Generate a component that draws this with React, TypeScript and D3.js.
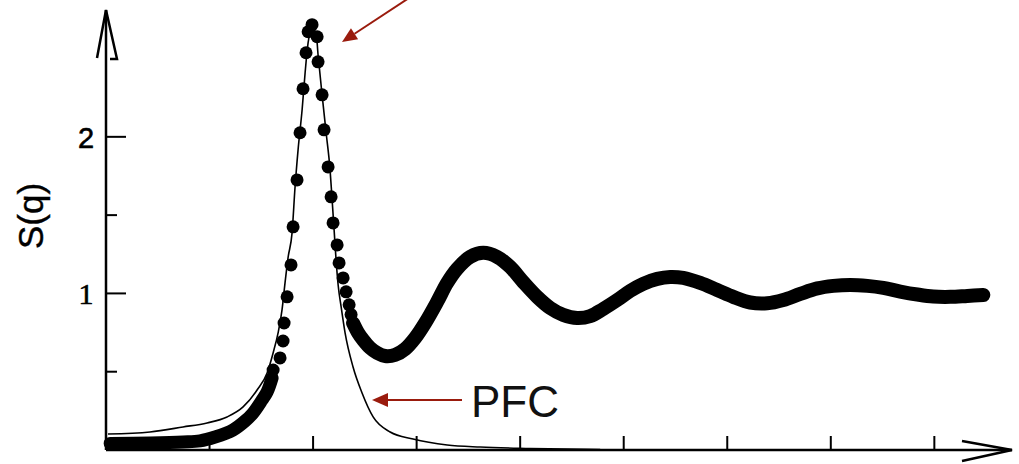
import React from "react";
import * as d3 from "d3";

// S(q) readings for the dense low-q band of dots
const lowBand: [number, number][] = [
  [0.04, 0.042], [0.425, 0.045], [0.744, 0.051], [0.908, 0.058], [1.053, 0.083],
  [1.227, 0.128], [1.343, 0.185], [1.42, 0.236], [1.507, 0.319], [1.556, 0.371],
  [1.604, 0.46],
];

// separate dots around the main peak
const peakDots: [number, number][] = [
  [1.614, 0.511], [1.681, 0.588], [1.71, 0.696], [1.72, 0.811], [1.749, 0.978],
  [1.787, 1.182], [1.807, 1.425], [1.845, 1.725], [1.874, 2.026], [1.903, 2.307],
  [1.932, 2.537], [1.952, 2.671], [1.99, 2.716], [2.039, 2.639], [2.048, 2.479],
  [2.087, 2.268], [2.106, 2.045], [2.145, 1.808], [2.174, 1.617], [2.193, 1.45],
  [2.232, 1.31], [2.251, 1.195], [2.29, 1.099], [2.319, 1.01], [2.348, 0.927],
  [2.367, 0.865],
];

// dense dots after the peak (they merge into a thick band)
const tailBand: [number, number][] = [
  [2.386, 0.811], [2.435, 0.748], [2.483, 0.703], [2.551, 0.652],
  [2.618, 0.62], [2.696, 0.6], [2.792, 0.607], [2.889, 0.645], [2.986, 0.716],
  [3.082, 0.811], [3.198, 0.946], [3.295, 1.067], [3.391, 1.157], [3.517, 1.233],
  [3.643, 1.259], [3.778, 1.233], [3.903, 1.169], [4.029, 1.073], [4.164, 0.978],
  [4.29, 0.907], [4.415, 0.863], [4.551, 0.843], [4.676, 0.855], [4.802, 0.901],
  [4.937, 0.958], [5.063, 1.016], [5.188, 1.061], [5.324, 1.093], [5.449, 1.105],
  [5.575, 1.099], [5.739, 1.067], [5.903, 1.022], [6.058, 0.978], [6.222, 0.942],
  [6.386, 0.937], [6.541, 0.958], [6.705, 0.997], [6.87, 1.032], [7.024, 1.048],
  [7.188, 1.054], [7.353, 1.048], [7.507, 1.035], [7.671, 1.012], [7.836, 0.993],
  [7.99, 0.98], [8.155, 0.978], [8.319, 0.984], [8.473, 0.99],
];

// PFC curve
const pfc: [number, number][] = [
  [0.019, 0.102], [0.425, 0.115], [0.744, 0.147], [0.976, 0.173], [1.169, 0.211],
  [1.324, 0.275], [1.459, 0.383], [1.556, 0.492], [1.614, 0.62], [1.662, 0.748],
  [1.7, 0.895], [1.729, 1.067], [1.758, 1.227], [1.797, 1.387], [1.826, 1.681],
  [1.855, 1.917], [1.894, 2.173], [1.923, 2.409], [1.952, 2.601], [1.99, 2.69],
  [2.029, 2.665], [2.048, 2.524], [2.087, 2.268], [2.126, 2.026], [2.164, 1.789],
  [2.184, 1.597], [2.203, 1.406], [2.222, 1.214], [2.242, 1.054], [2.271, 0.914],
  [2.309, 0.748], [2.386, 0.53], [2.473, 0.364], [2.58, 0.211], [2.744, 0.115],
  [2.966, 0.07], [3.295, 0.032], [3.614, 0.019], [4.097, 0.01], [4.773, 0.003],
];

const xTicks = [1, 2, 3, 4, 5, 6, 7, 8];
const yTicks = [0.5, 1, 1.5, 2];
const yLabels = ["1", "2"];
const yLabel = "S(q)";
const pfcLabel = "PFC";

const W = 1019;
const H = 464;
const red = "#9a1b0d";

export default function App() {
  const x = d3.scaleLinear().domain([0, 8.75]).range([106, 1012]);
  const y = d3.scaleLinear().domain([0, 2.81]).range([450, 10]);

  const pfcLine = d3
    .line<[number, number]>()
    .x((d) => x(d[0]))
    .y((d) => y(d[1]))
    .curve(d3.curveMonotoneX);

  const bandLine = d3
    .line<[number, number]>()
    .x((d) => x(d[0]))
    .y((d) => y(d[1]))
    .curve(d3.curveCatmullRom.alpha(0.5));

  const x0 = x(0);
  const y0 = y(0);
  const xEnd = x.range()[1];
  const yTop = y.range()[1];

  // red arrow pointing at the peak from top right
  const tip1 = [342, 42];
  const from1 = [412, -4];
  const len1 = Math.hypot(from1[0] - tip1[0], from1[1] - tip1[1]);
  const ux = (from1[0] - tip1[0]) / len1;
  const uy = (from1[1] - tip1[1]) / len1;
  const bx = tip1[0] + ux * 15;
  const by = tip1[1] + uy * 15;

  return (
    <svg
      width={W}
      height={H}
      style={{ position: "absolute", left: 0, top: 0, background: "#fff" }}
    >
      {/* axes */}
      <g stroke="#000" fill="none" strokeWidth={2.5}>
        <line x1={x0} y1={y0} x2={xEnd} y2={y0} />
        <line x1={x0} y1={y0} x2={x0} y2={yTop} />
        <path d={`M${xEnd - 50},${y0 - 9} L${xEnd},${y0} L${xEnd - 50},${y0 + 11}`} />
        <path d={`M${x0 - 9},${yTop + 48} L${x0},${yTop} L${x0 + 11},${yTop + 49} L${x0 + 4},${yTop + 49}`} />
      </g>
      <g stroke="#000" strokeWidth={2}>
        {xTicks.map((t) => (
          <line key={t} x1={x(t)} x2={x(t)} y1={y0} y2={y0 - 14} />
        ))}
        {yTicks.map((t) => (
          <line key={t} x1={x0} x2={x0 + (t % 1 === 0 ? 20 : 11)} y1={y(t)} y2={y(t)} />
        ))}
      </g>
      {yLabels.map((l) => (
        <text
          key={l}
          x={86}
          y={y(+l) + 11}
          textAnchor="middle"
          fontSize={l === "1" ? 30 : 29}
          fontFamily={l === "1" ? "Liberation Serif" : "Liberation Sans"}
          fill="#000"
          stroke="#000"
          strokeWidth={0.6}
        >
          {l}
        </text>
      ))}
      <text
        transform="translate(43,216) rotate(-90)"
        textAnchor="middle"
        fontSize={35}
        fontFamily="Liberation Sans"
        fill="#000"
        stroke="#000"
        strokeWidth={0.4}
      >
        {yLabel}
      </text>

      {/* PFC curve */}
      <path d={pfcLine(pfc) || ""} fill="none" stroke="#000" strokeWidth={1.6} />

      {/* dense data bands */}
      <path d={bandLine(lowBand) || ""} fill="none" stroke="#000" strokeWidth={13} strokeLinecap="round" strokeLinejoin="round" />
      <path d={bandLine(tailBand) || ""} fill="none" stroke="#000" strokeWidth={14} strokeLinecap="round" strokeLinejoin="round" />
      {peakDots.map((d, i) => (
        <circle key={i} cx={x(d[0])} cy={y(d[1])} r={6.5} fill="#000" />
      ))}

      {/* annotations */}
      <line x1={from1[0]} y1={from1[1]} x2={bx} y2={by} stroke={red} strokeWidth={2} />
      <polygon
        points={`${tip1[0]},${tip1[1]} ${bx + uy * 6.5},${by - ux * 6.5} ${bx - uy * 6.5},${by + ux * 6.5}`}
        fill={red}
      />
      <line x1={385} y1={400} x2={462} y2={400} stroke={red} strokeWidth={2} />
      <polygon points="372,400 388,393 388,407" fill={red} />
      <text x={471} y={417} fontSize={44} fontFamily="Liberation Sans" fill="#111">
        {pfcLabel}
      </text>
    </svg>
  );
}
